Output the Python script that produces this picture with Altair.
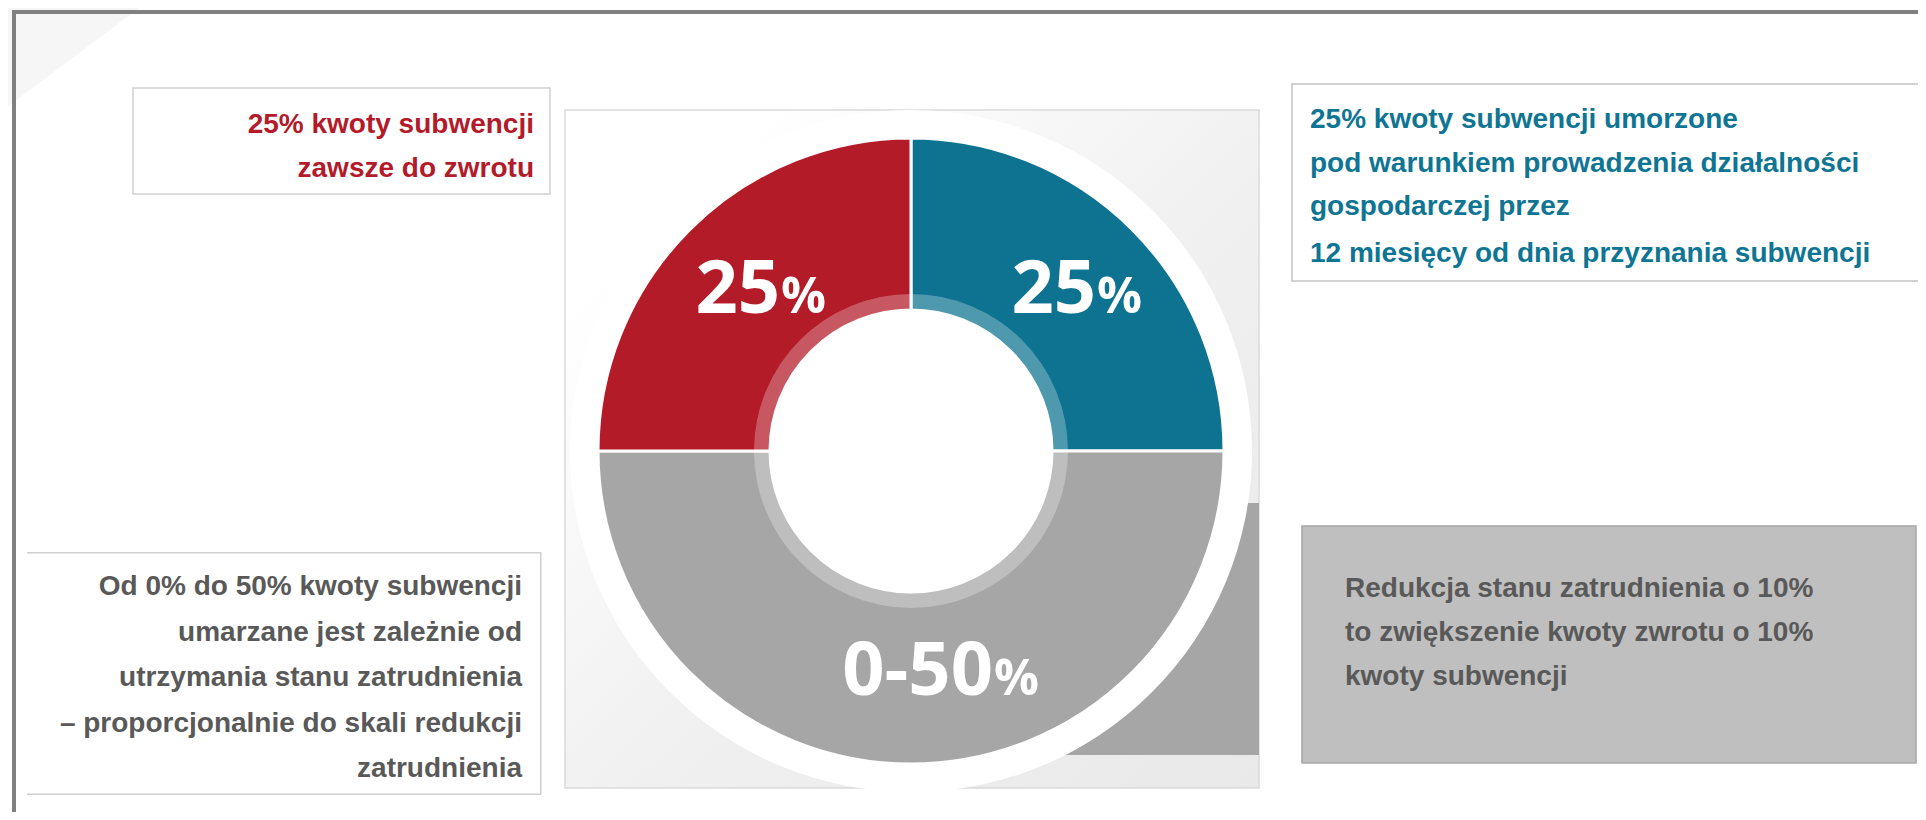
import math
import altair as alt
import pandas as pd

# ---------------- data ----------------
categories = ["umorzone po 12 miesiącach", "zależne od zatrudnienia", "zawsze do zwrotu"]
values = [25, 50, 25]
seg_colors = ["#0e7391", "#a6a6a6", "#b31b28"]
seg_numbers = ["25", "0-50", "25"]
seg_suffix = ["%", "%", "%"]

text_red = ["25% kwoty subwencji", "zawsze do zwrotu"]
text_teal = [
    "25% kwoty subwencji umorzone",
    "pod warunkiem prowadzenia działalności",
    "gospodarczej przez",
]
text_teal_last = ["12 miesięcy od dnia przyznania subwencji"]
text_gray = [
    "Od 0% do 50% kwoty subwencji",
    "umarzane jest zależnie od",
    "utrzymania stanu zatrudnienia",
    "– proporcjonalnie do skali redukcji",
    "zatrudnienia",
]
text_note = [
    "Redukcja stanu zatrudnienia o 10%",
    "to zwiększenie kwoty zwrotu o 10%",
    "kwoty subwencji",
]

# ---------------- layout (page pixels) ----------------
OFF = 8
W, H = 1910, 804
CX, CY = 911, 451
R_OUT, R_IN, R_BAND = 313, 141, 157
R_WHITE = 341
label_split_x = [1096, 993, 780]
label_base_y = [313, 695, 313]

NARROW = "Liberation Sans, Arial, sans-serif"
FS = 28
RED_T, TEAL_T, GRAY_T = "#b31b2b", "#0f7594", "#595959"


def px(v):
    return v - OFF


one = pd.DataFrame({"k": [1]})


def rect(x1, y1, x2, y2, **kw):
    return alt.Chart(one).mark_rect(**kw).encode(
        x=alt.value(px(x1)), x2=alt.value(px(x2)),
        y=alt.value(px(y1)), y2=alt.value(px(y2)),
    )


def lines(txt, x, y, align, color, lh):
    return alt.Chart(one).mark_text(
        text=txt, align=align, baseline="alphabetic", font=NARROW,
        fontWeight="bold", fontSize=FS, lineHeight=lh, color=color,
    ).encode(x=alt.value(px(x)), y=alt.value(px(y)))


tri = alt.Chart(one).mark_point(
    shape="M0,0L1,0L0,0.75Z", size=(2 * 150) ** 2, filled=True,
    fill="#f6f6f6", opacity=1, strokeWidth=0,
).encode(x=alt.value(px(0)), y=alt.value(px(0)))

frame_top = rect(12, 10, 1930, 14, fill="#808080")
frame_left = rect(12, 10, 16, 830, fill="#808080")

BORDER = "#d0d0d0"
box_red = rect(133, 88, 550, 194, fill="white", stroke=BORDER, strokeWidth=1.5)
box_teal = rect(1292, 84, 1940, 281, fill="white", stroke="#c4c4c4", strokeWidth=1.5)
box_gray = rect(27, 553, 541, 794, fill="white")
box_gray_top = rect(27, 552, 541, 553.5, fill=BORDER)
box_gray_bot = rect(27, 793.5, 541, 795, fill=BORDER)
box_gray_right = rect(540, 552, 541.5, 795, fill=BORDER)
box_note = rect(1302, 526, 1916, 763, fill="#bfbfbf", stroke="#a6a6a6", strokeWidth=1.5)

panel = rect(
    565, 110, 1259, 788,
    fill=alt.Gradient(
        gradient="linear",
        stops=[alt.GradientStop(offset=0.15, color="#ffffff"),
               alt.GradientStop(offset=0.55, color="#f0f0f0"),
               alt.GradientStop(offset=1, color="#e9e9e9")],
        x1=0, y1=0, x2=1, y2=1,
    ),
    stroke="#dadada", strokeWidth=1.5,
)
gray_block = rect(950, 503, 1259, 755, fill="#a6a6a6")

white_disc = alt.Chart(one).mark_arc(
    radius=R_WHITE, theta=0, theta2=2 * math.pi, fill="white"
).encode(x=alt.value(px(CX)), y=alt.value(px(CY)))

df = pd.DataFrame({
    "cat": categories, "value": values, "idx": list(range(len(values))),
    "num": seg_numbers, "pct": seg_suffix,
    "lx": [px(v) for v in label_split_x], "ly": [px(v) for v in label_base_y],
})

donut = alt.Chart(df).mark_arc(
    radius=R_OUT, radius2=R_IN, stroke="white", strokeWidth=3
).encode(
    theta=alt.Theta("value:Q", stack=True),
    order=alt.Order("idx:Q"),
    color=alt.Color("cat:N", scale=alt.Scale(domain=categories, range=seg_colors), legend=None),
    x=alt.value(px(CX)), y=alt.value(px(CY)),
)

band = alt.Chart(df).mark_arc(
    radius=R_BAND, radius2=R_IN, fill="white", fillOpacity=0.27, strokeWidth=0
).encode(
    theta=alt.Theta("value:Q", stack=True),
    order=alt.Order("idx:Q"),
    x=alt.value(px(CX)), y=alt.value(px(CY)),
)

nums = alt.Chart(df).mark_text(
    align="right", baseline="alphabetic", font="Open Sans", fontWeight="bold",
    fontSize=74, color="white",
).encode(x=alt.X("lx:Q", scale=None), y=alt.Y("ly:Q", scale=None), text="num:N")

pcts = alt.Chart(df).mark_text(
    align="left", baseline="alphabetic", font="Open Sans", fontWeight="bold",
    fontSize=50, color="white", dx=1,
).encode(x=alt.X("lx:Q", scale=None), y=alt.Y("ly:Q", scale=None), text="pct:N")

t_red = lines(text_red, 534, 133, "right", RED_T, 44)
t_teal = lines(text_teal, 1310, 128, "left", TEAL_T, 43.5)
t_teal2 = lines(text_teal_last, 1310, 262, "left", TEAL_T, 44)
t_gray = lines(text_gray, 522, 595, "right", GRAY_T, 45.5)
t_note = lines(text_note, 1345, 597, "left", GRAY_T, 44)

chart = alt.layer(
    tri, frame_top, frame_left,
    box_red, box_teal, box_gray, box_gray_top, box_gray_bot, box_gray_right, box_note,
    panel, gray_block, white_disc, donut, band, nums, pcts,
    t_red, t_teal, t_teal2, t_gray, t_note,
).properties(
    width=W, height=H, autosize=alt.AutoSizeParams(type="none"), padding=0,
    background="white",
).configure_view(strokeWidth=0)

chart.save("out.html", embed_options={"renderer": "svg", "actions": False})
